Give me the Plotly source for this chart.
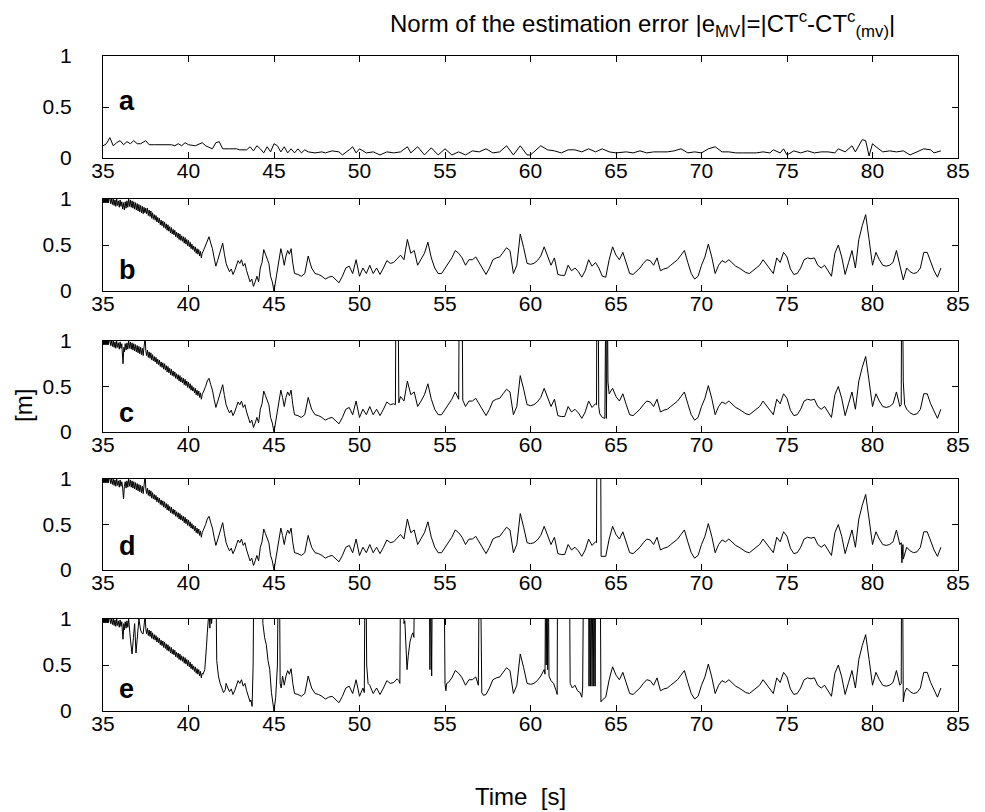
import plotly.graph_objects as go

# ---------------- data ----------------
X_TICKS = [35, 40, 45, 50, 55, 60, 65, 70, 75, 80, 85]
Y_TICKS = [0, 0.5, 1]
Y_TICK_TEXT = ["0", "0.5", "1"]
PANEL_LETTERS = ["a", "b", "c", "d", "e"]

# panel a
A_T = [35.0, 35.2, 35.4, 35.6, 35.8, 36.0, 36.2, 36.4, 36.6, 36.8, 37.0, 37.2, 37.5, 37.7, 38.0, 38.5, 39.0,
       39.2, 39.4, 39.6, 39.8, 40.0, 40.4, 40.8, 41.0, 41.4, 41.6, 41.8, 42.0, 42.4, 42.8, 43.0, 43.4, 43.6,
       43.8, 44.0, 44.2, 44.4, 44.6, 44.8, 45.0, 45.2, 45.4, 45.6, 45.8, 46.0, 46.2, 46.4, 46.6, 46.8, 47.0,
       47.4, 47.8, 48.0, 48.4, 48.8, 49.0, 49.4, 49.6, 49.8, 50.0, 50.4, 50.8, 51.2, 51.6, 52.0, 52.4, 52.8,
       53.0, 53.4, 53.8, 54.2, 54.6, 55.0, 55.4, 55.8, 56.2, 56.6, 57.0, 57.4, 57.8, 58.2, 58.6, 59.0, 59.4,
       59.8, 60.0, 60.2, 60.6, 61.0, 61.4, 61.8, 62.2, 62.6, 63.0, 63.4, 63.8, 64.2, 64.6, 65.0, 65.6, 66.0,
       66.4, 66.8, 67.2, 67.6, 68.0, 68.4, 68.8, 69.2, 69.6, 70.0, 70.4, 70.8, 71.2, 71.6, 72.0, 72.4, 72.8,
       73.2, 73.6, 74.0, 74.2, 74.6, 74.8, 75.0, 75.4, 75.8, 76.2, 76.6, 77.0, 77.4, 77.8, 78.0, 78.4, 78.8,
       79.0, 79.2, 79.4, 79.6, 79.8, 80.0, 80.2, 80.6, 81.0, 81.4, 81.8, 82.2, 82.6, 83.0, 83.4, 83.6, 84.0]
A_V = [0.12, 0.14, 0.20, 0.12, 0.15, 0.17, 0.13, 0.16, 0.14, 0.17, 0.14, 0.14, 0.17, 0.13, 0.13, 0.13, 0.13,
       0.12, 0.14, 0.12, 0.15, 0.13, 0.12, 0.15, 0.12, 0.09, 0.15, 0.16, 0.09, 0.09, 0.09, 0.08, 0.08, 0.11,
       0.07, 0.12, 0.09, 0.05, 0.11, 0.06, 0.14, 0.12, 0.06, 0.11, 0.05, 0.09, 0.05, 0.09, 0.05, 0.08, 0.06,
       0.05, 0.06, 0.05, 0.07, 0.06, 0.03, 0.08, 0.11, 0.05, 0.09, 0.05, 0.06, 0.03, 0.06, 0.05, 0.06, 0.11,
       0.05, 0.11, 0.03, 0.10, 0.03, 0.09, 0.03, 0.06, 0.03, 0.07, 0.06, 0.09, 0.05, 0.06, 0.12, 0.03, 0.12,
       0.03, 0.03, 0.06, 0.12, 0.08, 0.07, 0.05, 0.08, 0.08, 0.06, 0.09, 0.06, 0.09, 0.06, 0.05, 0.06, 0.05,
       0.07, 0.05, 0.06, 0.06, 0.06, 0.07, 0.09, 0.05, 0.06, 0.05, 0.09, 0.11, 0.06, 0.06, 0.05, 0.05, 0.05,
       0.05, 0.06, 0.05, 0.08, 0.05, 0.09, 0.03, 0.07, 0.05, 0.07, 0.05, 0.06, 0.06, 0.05, 0.09, 0.06, 0.12,
       0.06, 0.12, 0.18, 0.17, 0.02, 0.14, 0.11, 0.06, 0.07, 0.06, 0.07, 0.03, 0.06, 0.09, 0.08, 0.05, 0.07]

# panel b, noisy start (35 - 40.8 s, read densely)
B_EARLY_T = [35.000, 35.025, 35.050, 35.075, 35.100, 35.125, 35.150, 35.175, 35.200, 35.225, 35.250,
             35.275, 35.300, 35.325, 35.350,
             35.40, 35.45, 35.50, 35.55, 35.60, 35.65, 35.70, 35.75, 35.80, 35.85, 35.90, 35.95,
             36.00, 36.05, 36.10, 36.15, 36.20, 36.25, 36.30, 36.35, 36.40, 36.45, 36.50, 36.55,
             36.60, 36.65, 36.70, 36.75, 36.80, 36.85, 36.90, 36.95, 37.00, 37.05, 37.10, 37.15,
             37.20, 37.25, 37.30, 37.35, 37.40, 37.45,
             37.50, 37.55, 37.60, 37.65, 37.70, 37.75, 37.80, 37.85, 37.90, 37.95, 38.00, 38.05,
             38.10, 38.15, 38.20, 38.25, 38.30, 38.35, 38.40, 38.45, 38.50, 38.55, 38.60, 38.65,
             38.70, 38.75, 38.80, 38.85, 38.90, 38.95, 39.00, 39.05, 39.10, 39.15, 39.20, 39.25,
             39.30, 39.35, 39.40, 39.45, 39.50, 39.55, 39.60, 39.65, 39.70, 39.75, 39.80, 39.85,
             39.90, 39.95, 40.00, 40.05, 40.10, 40.15, 40.20, 40.25, 40.30, 40.35, 40.40, 40.45,
             40.50, 40.55, 40.60, 40.65, 40.70, 40.75, 40.80]
B_EARLY_V = [1.00, 0.96, 1.00, 0.96, 1.00, 0.96, 1.00, 0.96, 1.00, 0.96, 1.00,
             0.96, 1.00, 0.96, 1.00,
             1.02, 0.95, 1.00, 0.94, 1.00, 0.93, 0.99, 0.92, 1.00, 0.93, 0.98, 0.91,
             0.99, 0.92, 0.97, 0.89, 0.96, 0.88, 0.97, 0.90, 0.98, 0.91, 1.00, 0.92,
             0.99, 0.91, 0.98, 0.90, 0.97, 0.89, 0.96, 0.88, 0.95, 0.87, 0.94, 0.86,
             0.93, 0.85, 0.92, 0.84, 0.91, 0.85,
             0.90, 0.84, 0.90, 0.82, 0.88, 0.81, 0.87, 0.79, 0.85, 0.78, 0.83, 0.77,
             0.82, 0.75, 0.80, 0.74, 0.79, 0.72, 0.77, 0.71, 0.76, 0.69, 0.75, 0.68,
             0.73, 0.66, 0.72, 0.65, 0.70, 0.63, 0.69, 0.62, 0.67, 0.61, 0.66, 0.59,
             0.64, 0.58, 0.63, 0.56, 0.62, 0.55, 0.60, 0.54, 0.59, 0.52, 0.58, 0.51,
             0.56, 0.49, 0.55, 0.48, 0.53, 0.46, 0.51, 0.45, 0.49, 0.43, 0.48, 0.41,
             0.46, 0.40, 0.45, 0.38, 0.43, 0.36, 0.41]

# panel b, remainder (also the common trace underlying c, d, e)
B_LATE_T = [40.90, 41.00, 41.10, 41.20, 41.30, 41.40, 41.50, 41.60,
       41.70, 41.80, 41.90, 42.00, 42.10, 42.20, 42.30, 42.40, 42.50, 42.60, 42.70, 42.80, 42.90, 43.00,
       43.10, 43.20, 43.30, 43.40, 43.50, 43.60, 43.70, 43.80, 43.90, 44.00, 44.10, 44.20, 44.30, 44.40,
       44.50, 44.60, 44.70, 44.80, 44.90, 45.00, 45.10, 45.20, 45.30, 45.40, 45.50, 45.60, 45.70, 45.80,
       45.90, 46.00, 46.10, 46.20, 46.40, 46.60, 46.80, 47.00, 47.20, 47.40, 47.60, 47.80, 48.00, 48.20,
       48.40, 48.60, 48.80, 49.00, 49.20, 49.40, 49.60, 49.80, 50.00, 50.20, 50.40, 50.60, 50.80, 51.00,
       51.20, 51.40, 51.60, 51.80, 52.00, 52.20, 52.40, 52.60, 52.80, 53.00, 53.20, 53.40, 53.60, 53.80,
       54.00, 54.20, 54.40, 54.60, 54.80, 55.00, 55.20, 55.40, 55.60, 55.80, 56.00, 56.20, 56.40, 56.60,
       56.80, 57.00, 57.20, 57.40, 57.60, 57.80, 58.00, 58.20, 58.40, 58.60, 58.80, 59.00, 59.20, 59.40,
       59.60, 59.80, 60.00, 60.20, 60.40, 60.60, 60.80, 61.00, 61.20, 61.40, 61.60, 61.80, 62.00, 62.20,
       62.40, 62.60, 62.80, 63.00, 63.20, 63.40, 63.60, 63.80, 64.00, 64.20, 64.40, 64.60, 64.80, 65.00,
       65.20, 65.40, 65.60, 65.80, 66.00, 66.20, 66.40, 66.60, 66.80, 67.00, 67.20, 67.40, 67.60, 67.80,
       68.00, 68.20, 68.40, 68.60, 68.80, 69.00, 69.20, 69.40, 69.60, 69.80, 70.00, 70.20, 70.40, 70.60,
       70.80, 71.00, 71.20, 71.40, 71.60, 71.80, 72.00, 72.20, 72.40, 72.60, 72.80, 73.00, 73.20, 73.40,
       73.60, 73.80, 74.00, 74.20, 74.40, 74.60, 74.80, 75.00, 75.20, 75.40, 75.60, 75.80, 76.00, 76.20,
       76.40, 76.60, 76.80, 77.00, 77.20, 77.40, 77.60, 77.80, 78.00, 78.20, 78.40, 78.60, 78.80, 79.00,
       79.20, 79.40, 79.60, 79.80, 80.00, 80.20, 80.40, 80.60, 80.80, 81.00, 81.20, 81.40, 81.60, 81.80,
       82.00, 82.20, 82.40, 82.60, 82.80, 83.00, 83.20, 83.40, 83.60, 83.80, 84.00]
B_LATE_V = [0.45, 0.50, 0.56, 0.59, 0.52, 0.46, 0.36, 0.27,
       0.33, 0.39, 0.47, 0.52, 0.40, 0.30, 0.25, 0.21, 0.24, 0.18, 0.22, 0.27, 0.33, 0.30,
       0.34, 0.27, 0.30, 0.22, 0.15, 0.10, 0.13, 0.05, 0.10, 0.16, 0.10, 0.25, 0.31, 0.45,
       0.40, 0.34, 0.30, 0.16, 0.10, 0.00, 0.12, 0.19, 0.35, 0.46, 0.38, 0.28, 0.38, 0.44,
       0.40, 0.46, 0.30, 0.19, 0.18, 0.16, 0.19, 0.38, 0.25, 0.19, 0.18, 0.16, 0.13, 0.15,
       0.16, 0.12, 0.09, 0.16, 0.25, 0.27, 0.19, 0.34, 0.16, 0.25, 0.19, 0.28, 0.19, 0.25,
       0.18, 0.25, 0.33, 0.30, 0.31, 0.35, 0.39, 0.34, 0.56, 0.41, 0.44, 0.28, 0.34, 0.41,
       0.53, 0.36, 0.25, 0.19, 0.19, 0.25, 0.31, 0.36, 0.44, 0.41, 0.36, 0.28, 0.34, 0.34,
       0.37, 0.31, 0.25, 0.18, 0.25, 0.34, 0.36, 0.37, 0.42, 0.47, 0.44, 0.19, 0.28, 0.62,
       0.47, 0.30, 0.29, 0.30, 0.33, 0.38, 0.48, 0.37, 0.28, 0.36, 0.18, 0.17, 0.17, 0.28,
       0.22, 0.25, 0.21, 0.15, 0.22, 0.34, 0.27, 0.31, 0.25, 0.16, 0.15, 0.34, 0.48, 0.39,
       0.34, 0.42, 0.30, 0.19, 0.18, 0.21, 0.25, 0.30, 0.34, 0.33, 0.28, 0.36, 0.22, 0.24,
       0.25, 0.28, 0.31, 0.34, 0.39, 0.44, 0.31, 0.19, 0.13, 0.16, 0.28, 0.37, 0.51, 0.37,
       0.19, 0.28, 0.33, 0.31, 0.34, 0.30, 0.27, 0.25, 0.22, 0.20, 0.19, 0.22, 0.25, 0.28,
       0.34, 0.29, 0.24, 0.19, 0.36, 0.31, 0.42, 0.37, 0.24, 0.18, 0.19, 0.25, 0.34, 0.36,
       0.35, 0.36, 0.28, 0.25, 0.28, 0.22, 0.16, 0.41, 0.50, 0.37, 0.18, 0.31, 0.44, 0.25,
       0.56, 0.71, 0.83, 0.56, 0.28, 0.42, 0.34, 0.28, 0.27, 0.28, 0.31, 0.44, 0.28, 0.12,
       0.25, 0.21, 0.19, 0.20, 0.25, 0.42, 0.42, 0.31, 0.22, 0.15, 0.25]

B_T = B_EARLY_T + B_LATE_T
B_V = B_EARLY_V + B_LATE_V

# Segments where panels c, d, e depart from b (each replaces b over its own time span).
# Values above 1 leave the plotted range (outliers).
C_D1_T = [36.12, 36.17, 36.22]
C_D1_V = [0.90, 0.75, 0.93]
C_D2_T = [37.38, 37.42, 37.47]
C_D2_V = [0.90, 1.05, 1.05]
C_S1_T = [52.10, 52.13, 52.26, 52.30]
C_S1_V = [0.30, 1.50, 1.50, 0.32]
C_S2_T = [55.80, 55.83, 56.00, 56.04]
C_S2_V = [0.36, 1.50, 1.50, 0.35]
C_S3_T = [63.86, 63.88, 63.96, 63.99, 64.05, 64.20, 64.35, 64.40, 64.44, 64.46, 64.50, 64.53, 64.60]
C_S3_V = [0.30, 1.50, 1.50, 0.28, 0.20, 0.16, 0.15, 1.50, 0.15, 1.50, 1.50, 0.55, 0.42]
C_S4_T = [81.68, 81.70, 81.76, 81.80, 81.88]
C_S4_V = [0.30, 1.50, 1.50, 0.55, 0.30]

D_D1_T = [36.15, 36.20, 36.25]
D_D1_V = [0.90, 0.78, 0.92]
D_D2_T = [37.38, 37.42, 37.47]
D_D2_V = [0.90, 1.05, 1.05]
D_S1_T = [63.86, 63.88, 64.10, 64.13, 64.20]
D_S1_V = [0.30, 1.50, 1.50, 0.15, 0.15]
D_S2_T = [81.68, 81.72, 81.78]
D_S2_V = [0.30, 0.08, 0.28]

E_D1_T = [36.12, 36.17, 36.22]
E_D1_V = [0.90, 0.78, 0.95]
E_D2_T = [36.52, 36.57, 36.62, 36.70, 36.78, 36.85, 36.93, 37.00, 37.10, 37.20, 37.30]
E_D2_V = [0.90, 0.85, 0.75, 0.62, 0.80, 0.95, 0.63, 0.80, 1.00, 0.88, 0.84]
E_D3_T = [37.38, 37.42, 37.47]
E_D3_V = [0.90, 1.05, 1.05]
E_S1_T = [40.85, 40.95, 41.00, 41.05, 41.10, 41.15, 41.20, 41.25, 41.30, 41.35, 41.40, 41.50, 41.60,
          41.65, 41.75, 41.85, 41.95, 42.05, 42.15]
E_S1_V = [0.40, 0.45, 0.55, 0.70, 0.85, 1.00, 1.10, 0.90, 1.10, 0.95, 1.10, 1.50, 1.50,
          0.55, 0.38, 0.30, 0.24, 0.20, 0.23]
E_S2_T = [43.65, 43.72, 43.78, 43.82, 44.30, 44.35, 44.45, 44.55, 44.65, 44.75, 44.85, 44.95, 45.00,
          45.10, 45.20, 45.25, 45.32, 45.36, 45.42]
E_S2_V = [0.12, 0.05, 0.50, 1.50, 1.50, 0.95, 0.80, 0.72, 0.55, 0.45, 0.20, 0.05, 0.00,
          0.15, 0.50, 1.50, 1.50, 0.30, 0.25]
E_S3_T = [50.28, 50.32, 50.38, 50.42, 50.50]
E_S3_V = [0.20, 1.50, 1.50, 0.50, 0.30]
E_S4_T = [52.30, 52.36, 52.40, 52.55, 52.60, 52.65, 52.70, 52.78, 52.85, 52.95, 53.05, 53.12, 53.18,
          53.22, 54.05, 54.08, 54.12, 54.16, 54.22, 54.26, 54.95, 55.00, 55.05, 55.10]
E_S4_V = [0.33, 0.30, 1.50, 1.50, 0.95, 0.98, 0.80, 0.45, 0.60, 0.75, 0.82, 0.85, 0.80,
          1.50, 1.50, 1.50, 0.45, 1.50, 0.38, 1.50, 1.50, 0.30, 0.22, 0.30]
E_S5_T = [56.95, 57.00, 57.08, 57.15, 57.25]
E_S5_V = [0.28, 1.50, 1.50, 0.20, 0.17]
E_S6_T = [60.80, 60.85, 60.88, 60.92, 60.96, 61.00, 61.05, 61.08, 61.20, 61.35, 61.50, 61.56, 61.58,
          62.28, 62.32, 62.45, 62.60, 62.75, 62.90, 63.00, 63.05, 63.10, 63.40, 63.42, 63.46, 63.50,
          63.55, 63.60, 63.65, 63.70, 63.75, 63.78, 63.80, 64.08, 64.12, 64.20]
E_S6_V = [0.45, 0.40, 1.50, 0.50, 1.50, 0.45, 1.50, 0.38, 0.33, 0.30, 0.22, 0.18, 1.50,
          1.50, 0.30, 0.25, 0.28, 0.22, 0.20, 0.15, 0.25, 1.50, 1.50, 0.27, 1.50, 0.27,
          1.50, 0.27, 1.50, 0.27, 1.50, 0.27, 1.50, 1.50, 0.10, 0.12]
E_S7_T = [81.68, 81.70, 81.76, 81.80, 81.88]
E_S7_V = [0.30, 1.50, 1.50, 0.10, 0.20]

C_PATCHES = [(C_D1_T, C_D1_V), (C_D2_T, C_D2_V), (C_S1_T, C_S1_V), (C_S2_T, C_S2_V),
             (C_S3_T, C_S3_V), (C_S4_T, C_S4_V)]
D_PATCHES = [(D_D1_T, D_D1_V), (D_D2_T, D_D2_V), (D_S1_T, D_S1_V), (D_S2_T, D_S2_V)]
E_PATCHES = [(E_D1_T, E_D1_V), (E_D2_T, E_D2_V), (E_D3_T, E_D3_V), (E_S1_T, E_S1_V), (E_S2_T, E_S2_V),
             (E_S3_T, E_S3_V), (E_S4_T, E_S4_V), (E_S5_T, E_S5_V), (E_S6_T, E_S6_V), (E_S7_T, E_S7_V)]


def apply_patches(base_t, base_v, patches):
    pts = list(zip(base_t, base_v))
    for pt, pv in patches:
        lo, hi = pt[0], pt[-1]
        pts = [p for p in pts if not (lo <= p[0] <= hi)] + list(zip(pt, pv))
    pts.sort(key=lambda p: p[0])
    return [p[0] for p in pts], [p[1] for p in pts]


C_T, C_V = apply_patches(B_T, B_V, C_PATCHES)
D_T, D_V = apply_patches(B_T, B_V, D_PATCHES)
E_T, E_V = apply_patches(B_T, B_V, E_PATCHES)

SERIES = [(A_T, A_V), (B_T, B_V), (C_T, C_V), (D_T, D_V), (E_T, E_V)]
LETTER_Y = [0.56, 0.23, 0.21, 0.26, 0.24]

# ---------------- layout ----------------
W, H = 985, 812
ML, MR, MT, MB = 95, 35, 48, 109
plot_h = H - MT - MB
plot_w = W - ML - MR
PANEL_PX = [(48, 150), (191, 283), (333, 424), (471, 562), (611, 703)]

FONT = "Liberation Sans, Arial, Helvetica, sans-serif"
TICK_SIZE = 21

fig = go.Figure()
layout = dict(
    width=W, height=H,
    margin=dict(l=ML, r=MR, t=MT, b=MB),
    paper_bgcolor="white", plot_bgcolor="white",
    showlegend=False,
    font=dict(family=FONT, size=TICK_SIZE, color="black"),
)

for i, ((t, v), (ytop, ybot)) in enumerate(zip(SERIES, PANEL_PX)):
    n = "" if i == 0 else str(i + 1)
    fig.add_trace(go.Scatter(x=t, y=v, mode="lines", line=dict(color="black", width=1),
                             xaxis="x" + n, yaxis="y" + n, hoverinfo="skip"))
    d0 = (H - MB - ybot) / plot_h
    d1 = (H - MB - ytop) / plot_h
    common = dict(showline=True, linecolor="black", linewidth=1, mirror="allticks",
                  ticks="inside", ticklen=6, tickcolor="black", tickwidth=1,
                  showgrid=False, zeroline=False,
                  tickfont=dict(family=FONT, size=TICK_SIZE, color="black"))
    layout["xaxis" + n] = dict(common, range=[35, 85], tickvals=X_TICKS, domain=[0, 1],
                               anchor="y" + n, ticklabelstandoff=-6)
    layout["yaxis" + n] = dict(common, range=[0, 1], tickvals=Y_TICKS, ticktext=Y_TICK_TEXT,
                               domain=[d0, d1], anchor="x" + n, ticklabelstandoff=26)

fig.update_layout(**layout)

for i, letter in enumerate(PANEL_LETTERS):
    n = "" if i == 0 else str(i + 1)
    fig.add_annotation(x=35.8, y=LETTER_Y[i], xref="x" + n, yref="y" + n, text="<b>" + letter + "</b>",
                       showarrow=False, xanchor="left", yanchor="middle",
                       font=dict(family=FONT, size=27, color="black"))

fig.add_annotation(
    text="Norm of the estimation error |e<sub>MV</sub>|=|CT<sup>c</sup>-CT<sup>c</sup><sub>(mv)</sub>|",
    xref="paper", yref="paper", x=(634 - ML) / plot_w, y=(H - MB - 16) / plot_h,
    showarrow=False, xanchor="center", yanchor="middle",
    font=dict(family=FONT, size=24, color="black"))

fig.add_annotation(text="Time  [s]", xref="paper", yref="paper",
                   x=(512 - ML) / plot_w, y=(H - MB - 788) / plot_h,
                   showarrow=False, xanchor="center", yanchor="middle",
                   font=dict(family=FONT, size=24, color="black"))

fig.add_annotation(text="[m]", xref="paper", yref="paper",
                   x=(15 - ML) / plot_w, y=(H - MB - 398) / plot_h, textangle=-90,
                   showarrow=False, xanchor="center", yanchor="middle",
                   font=dict(family=FONT, size=24, color="black"))

fig.write_html("out.html")
